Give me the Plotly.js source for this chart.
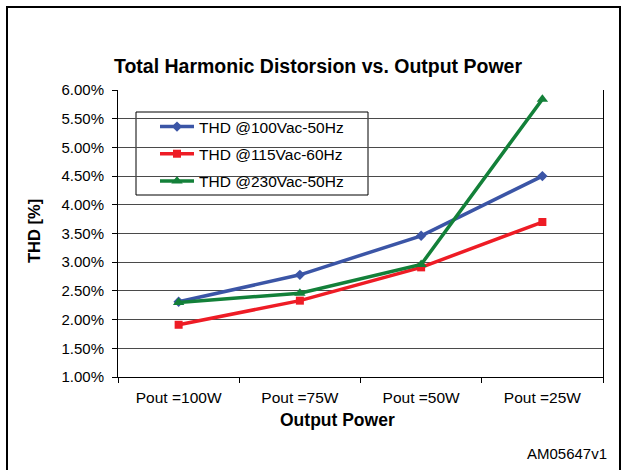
<!DOCTYPE html>
<html><head><meta charset="utf-8">
<script src="https://cdn.plot.ly/plotly-3.0.1.min.js"></script>
<style>html,body{margin:0;padding:0;background:#fff}</style>
</head><body><div id="chart" style="width:622px;height:470px"></div>
<script>
const categories = ['Pout =100W', 'Pout =75W', 'Pout =50W', 'Pout =25W'];
const seriesNames = ['THD @100Vac-50Hz', 'THD @115Vac-60Hz', 'THD @230Vac-50Hz'];
const thd100 = [0.0231, 0.0278, 0.0346, 0.0450];
const thd115 = [0.0191, 0.0233, 0.0291, 0.0370];
const thd230 = [0.0230, 0.0246, 0.0296, 0.0584];
const yTicks = [0.01, 0.015, 0.02, 0.025, 0.03, 0.035, 0.04, 0.045, 0.05, 0.055, 0.06];

const FONT = 'Liberation Sans, Arial, sans-serif';
const colors = ['#3b55a6', '#ee1c25', '#138039'];
const symbols = ['diamond', 'square', 'triangle-up'];
const msize = [8, 8, 10];
const values = [thd100, thd115, thd230];

const traces = values.map((v, i) => ({
  type: 'scatter', mode: 'lines+markers', x: categories, y: v, name: seriesNames[i],
  legendgroup: 'g' + i,
  line: {color: colors[i], width: 3.5},
  marker: {color: colors[i], symbol: symbols[i], size: msize[i]}
}));

const L = 118, R = 603, T = 90, B = 377, W = 622, H = 470;
const px = x => (x - L) / (R - L);
const py = y => (B - y) / (B - T);

const layout = {
  width: W, height: H,
  margin: {l: L, r: W - R, t: T, b: H - B},
  paper_bgcolor: '#fff', plot_bgcolor: '#fff',
  font: {family: FONT, size: 15, color: '#000'},
  title: {text: 'Total Harmonic Distorsion vs. Output Power', font: {family: FONT, size: 19.5, color: '#000', weight: 'bold'},
    x: 318 / W, xanchor: 'center', y: 1 - 66 / H, yanchor: 'middle'},
  xaxis: {type: 'category', range: [-0.5, 3.5], showline: true, linecolor: '#000', linewidth: 1,
    ticks: 'outside', tickson: 'boundaries', ticklen: 5, tickcolor: '#000', showgrid: false, zeroline: false,
    ticklabelstandoff: 6, tickfont: {family: FONT, size: 15.5, color: '#000'}},
  yaxis: {range: [0.01, 0.06], tickvals: yTicks, tickformat: '.2%', showline: true, linecolor: '#000', linewidth: 1,
    mirror: true, ticks: 'outside', ticklen: 5, tickcolor: '#000', showgrid: true, gridcolor: '#4a4a4a', gridwidth: 1,
    zeroline: false, ticklabelstandoff: 5, tickfont: {family: FONT, size: 15, color: '#000'}},
  showlegend: true,
  legend: {x: px(155), y: py(110), xanchor: 'left', yanchor: 'top', bgcolor: 'rgba(0,0,0,0)', borderwidth: 0,
    font: {family: FONT, size: 15.5, color: '#000'}, tracegroupgap: 4, traceorder: 'grouped', itemwidth: 34},
  shapes: [
    {type: 'rect', xref: 'paper', yref: 'paper', x0: px(136), x1: px(368), y0: py(195), y1: py(112),
      line: {color: '#000', width: 1}, fillcolor: '#fff', layer: 'below'},
    {type: 'rect', xref: 'paper', yref: 'paper', x0: px(7), x1: px(620), y0: py(475), y1: py(7),
      line: {color: '#000', width: 2}, fillcolor: 'rgba(0,0,0,0)'}
  ],
  annotations: [
    {text: '<b>THD [%]</b>', xref: 'paper', yref: 'paper', x: px(34), y: py(231), textangle: -90,
      showarrow: false, font: {family: FONT, size: 16.5, color: '#000'}, xanchor: 'center', yanchor: 'middle'},
    {text: '<b>Output Power</b>', xref: 'paper', yref: 'paper', x: px(337), y: py(420),
      showarrow: false, font: {family: FONT, size: 17.5, color: '#000'}, xanchor: 'center', yanchor: 'middle'},
    {text: 'AM05647v1', xref: 'paper', yref: 'paper', x: px(609), y: py(453),
      showarrow: false, font: {family: FONT, size: 15, color: '#000'}, xanchor: 'right', yanchor: 'middle'}
  ]
};

Plotly.newPlot('chart', traces, layout, {displayModeBar: false, staticPlot: true});
</script></body></html>
